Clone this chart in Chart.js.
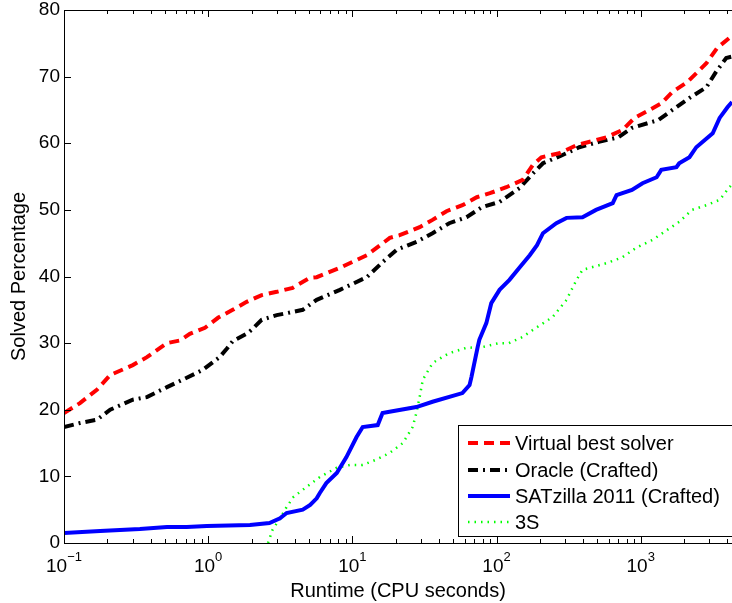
<!DOCTYPE html>
<html>
<head>
<meta charset="utf-8">
<script src="https://cdn.jsdelivr.net/npm/chart.js@4.4.1/dist/chart.umd.min.js"></script>
<style>
  html, body { margin: 0; padding: 0; background: #fff; }
  #wrap { width: 732px; height: 603px; }
</style>
</head>
<body>
<div id="wrap"><canvas id="chart"></canvas></div>
<script>
// runtime (CPU seconds) / solved percentage
const vbsTime = [0.1, 0.129, 0.169, 0.209, 0.3, 0.376, 0.518, 0.637, 0.746, 0.95, 1.17, 1.48, 1.85, 2.35, 2.99,
  3.86, 5.07, 5.66, 8.2, 12.6, 18.2, 21.3, 29.3, 36, 45, 58, 73, 90, 117, 152,
  178, 205, 273, 359, 579, 748, 906, 1150, 1393, 1660, 2108, 2856, 3390, 4120, 4300];
const vbsPct = [19.5, 21.0, 23.0, 25.2, 26.7, 27.9, 30.0, 30.4, 31.4, 32.3, 33.8, 35.0, 36.2, 37.2, 37.7,
  38.3, 39.8, 39.9, 41.3, 43.2, 45.8, 46.2, 47.4, 48.5, 49.8, 50.7, 51.9, 52.5, 53.4, 54.5,
  56.7, 57.9, 58.5, 59.7, 60.9, 62.0, 63.8, 65.0, 66.0, 67.7, 69.2, 72.0, 74.3, 75.8, 76.0];

const oracleTime = [0.1, 0.129, 0.169, 0.209, 0.3, 0.376, 0.518, 0.71, 0.92, 1.2, 1.35, 1.48, 1.88, 2.0, 2.35,
  2.99, 3.51, 4.53, 5.66, 8.2, 12.6, 16.3, 20.3, 27.9, 36, 47, 62, 79, 105, 145,
  174, 210, 285, 375, 512, 700, 870, 1330, 1660, 2180, 2856, 3330, 3920, 4300];
const oraclePct = [17.4, 18.0, 18.5, 20.0, 21.5, 21.9, 23.4, 24.8, 26.0, 27.9, 29.2, 30.3, 31.5, 32.0, 33.5,
  34.2, 34.5, 35.0, 36.5, 38.0, 39.9, 42.2, 44.0, 45.2, 46.5, 48.0, 48.9, 50.4, 51.2, 53.3,
  55.2, 57.0, 58.2, 59.4, 60.2, 60.9, 62.3, 63.5, 65.0, 66.8, 68.4, 70.7, 72.8, 73.0];

const satzillaTime = [0.1, 0.178, 0.336, 0.518, 0.71, 0.98, 1.95, 2.66, 3.15, 3.5, 4.53, 5.1, 5.66, 5.95, 6.6,
  7.8, 9.1, 10.7, 11.8, 15, 16.2, 18.1, 27.8, 36, 58, 65, 67, 74, 76, 85,
  92, 105, 123, 145, 170, 191, 210, 260, 306, 395, 490, 640, 680, 870, 1030,
  1290, 1390, 1770, 1850, 2180, 2430, 3160, 3530, 4000, 4300];
const satzillaPct = [1.5, 1.8, 2.1, 2.4, 2.4, 2.55, 2.7, 3.0, 3.7, 4.5, 5.0, 5.7, 6.7, 7.5, 9.0,
  10.5, 12.9, 15.9, 17.4, 17.7, 19.5, 19.7, 20.4, 21.2, 22.5, 23.7, 24.9, 29.4, 30.5, 33.0,
  36.0, 38.0, 39.5, 41.4, 43.2, 44.7, 46.5, 48.0, 48.8, 48.9, 50.0, 51.0, 52.2, 53.0, 54.0,
  54.9, 56.0, 56.4, 57.0, 57.9, 59.4, 61.5, 63.8, 65.4, 66.2];

const s3Time = [2.6, 2.8, 3.15, 3.5, 3.9, 4.8, 5.95, 7.8, 9.6, 11.8, 14.6, 18.1, 22.4, 26.2, 27.8,
  29.3, 30.8, 36, 42, 47, 62, 80, 104, 122, 151, 191, 245, 306, 359, 395,
  579, 748, 930, 1210, 1530, 1850, 2270, 2860, 3530, 4120, 4300];
const s3Pct = [0, 2.0, 3.7, 5.4, 6.9, 8.4, 9.9, 11.3, 11.7, 11.7, 12.5, 13.5, 15.0, 17.4, 19.5,
  21.9, 24.5, 27.0, 27.9, 28.5, 29.3, 29.4, 30.0, 30.0, 30.9, 32.4, 33.9, 36.5, 39.5, 41.0,
  42.0, 42.9, 44.3, 45.5, 47.0, 48.2, 50.0, 50.7, 51.5, 53.4, 53.8];

const seriesLabels = ['Virtual best solver', 'Oracle (Crafted)', 'SATzilla 2011 (Crafted)', '3S'];

const xMajorTicks = [0.1, 1, 10, 100, 1000];
const xExponents = ['\u22121', '0', '1', '2', '3'];
const yTickValues = [0, 10, 20, 30, 40, 50, 60, 70, 80];

const FONT = "'Liberation Sans', Arial, Helvetica, sans-serif";

function pts(xs, ys) {
  return xs.map((x, i) => ({ x: x, y: ys[i] }));
}

// MATLAB style box: inward ticks, log minor ticks, superscript labels, boxed legend
const matlabAxes = {
  id: 'matlabAxes',
  afterDatasetsDraw(chart) {
    const ctx = chart.ctx;
    const a = chart.chartArea;
    const xs = chart.scales.x;
    const ys = chart.scales.y;
    ctx.save();
    ctx.strokeStyle = '#000';
    ctx.lineWidth = 1;
    ctx.beginPath();
    ctx.moveTo(a.right + 1, a.top + 0.5);
    ctx.lineTo(a.left + 0.5, a.top + 0.5);
    ctx.lineTo(a.left + 0.5, a.bottom + 0.5);
    ctx.lineTo(a.right + 1, a.bottom + 0.5);
    // x ticks (top and bottom)
    for (let e = -1; e <= 3; e++) {
      for (let m = 1; m <= 9; m++) {
        const v = m * Math.pow(10, e);
        if (v < xs.min || v > xs.max) continue;
        const px = Math.round(xs.getPixelForValue(v)) + 0.5;
        const len = m === 1 ? 7 : 4;
        ctx.moveTo(px, a.bottom);
        ctx.lineTo(px, a.bottom - len);
        ctx.moveTo(px, a.top);
        ctx.lineTo(px, a.top + len);
      }
    }
    // y ticks
    yTickValues.forEach(v => {
      const py = Math.round(ys.getPixelForValue(v)) + 0.5;
      ctx.moveTo(a.left, py);
      ctx.lineTo(a.left + 7, py);
    });
    ctx.stroke();

    // legend
    const lx = 458.5, ly = 425.5, lh = 111;
    ctx.fillStyle = '#fff';
    ctx.fillRect(lx, ly, 300, lh);
    ctx.strokeRect(lx, ly, 300, lh);
    const rows = [443, 470, 496, 522];
    chart.data.datasets.forEach((ds, i) => {
      const y = rows[i];
      ctx.save();
      ctx.strokeStyle = ds.borderColor;
      ctx.lineWidth = ds.borderWidth;
      ctx.setLineDash(ds.borderDash || []);
      ctx.beginPath();
      ctx.moveTo(468, y);
      ctx.lineTo(510, y);
      ctx.stroke();
      ctx.restore();
      ctx.fillStyle = '#000';
      ctx.font = '20px ' + FONT;
      ctx.textAlign = 'left';
      ctx.textBaseline = 'middle';
      ctx.fillText(ds.label, 515, y + 1);
    });
    ctx.restore();
  },
  afterDraw(chart) {
    const ctx = chart.ctx;
    const xs = chart.scales.x;
    ctx.save();
    ctx.fillStyle = '#000';
    ctx.textBaseline = 'alphabetic';
    ctx.textAlign = 'left';
    xMajorTicks.forEach((v, i) => {
      const px = xs.getPixelForValue(v);
      ctx.font = '19px ' + FONT;
      const wBase = ctx.measureText('10').width;
      ctx.font = '13px ' + FONT;
      const wExp = ctx.measureText(xExponents[i]).width;
      const x0 = px - (wBase + wExp) / 2;
      ctx.font = '19px ' + FONT;
      ctx.fillText('10', x0, 572);
      ctx.font = '13px ' + FONT;
      ctx.fillText(xExponents[i], x0 + wBase, 561);
    });
    ctx.restore();
  }
};

new Chart(document.getElementById('chart'), {
  type: 'scatter',
  data: {
    datasets: [
      { label: seriesLabels[0], data: pts(vbsTime, vbsPct), borderColor: '#ff0000', borderWidth: 4, borderDash: [10, 6] },
      { label: seriesLabels[1], data: pts(oracleTime, oraclePct), borderColor: '#000000', borderWidth: 4, borderDash: [10, 5, 2, 5] },
      { label: seriesLabels[2], data: pts(satzillaTime, satzillaPct), borderColor: '#0000ff', borderWidth: 4 },
      { label: seriesLabels[3], data: pts(s3Time, s3Pct), borderColor: '#00ff00', borderWidth: 2.5, borderDash: [1.5, 5] }
    ].map(d => Object.assign(d, { showLine: true, pointRadius: 0, pointHoverRadius: 0, fill: false, tension: 0 }))
  },
  options: {
    responsive: true,
    maintainAspectRatio: false,
    animation: false,
    layout: { padding: { top: 10, left: 0, right: 0, bottom: 0 } },
    plugins: { legend: { display: false }, tooltip: { enabled: false } },
    scales: {
      x: {
        type: 'logarithmic',
        min: 0.1,
        max: 4300,
        ticks: { display: false },
        grid: { display: false, drawTicks: false },
        border: { display: false },
        title: { display: true, text: 'Runtime (CPU seconds)', color: '#000', font: { family: FONT, size: 20 }, padding: { top: 0, bottom: 0 } },
        afterFit: s => { s.height = 60; s.paddingLeft = 0; s.paddingRight = 0; }
      },
      y: {
        min: 0,
        max: 80,
        ticks: { stepSize: 10, color: '#000', font: { family: FONT, size: 19 }, padding: 4 },
        grid: { display: false, drawTicks: false },
        border: { display: false },
        title: { display: true, text: 'Solved Percentage', color: '#000', font: { family: FONT, size: 20 }, padding: { top: 7, bottom: 0 } },
        afterFit: s => { s.width = 64; s.paddingTop = 0; s.paddingBottom = 0; }
      }
    }
  },
  plugins: [matlabAxes]
});
</script>
</body>
</html>
